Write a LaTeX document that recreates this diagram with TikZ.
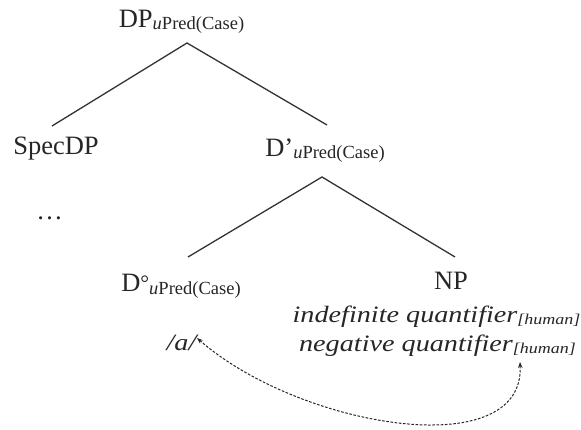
\documentclass[tikz,border=0pt]{standalone}
\usepackage{fontspec}
\setmainfont{Liberation Serif}
\usetikzlibrary{arrows.meta}

% feature subscript attached to a category label
\newcommand\featsub{\raisebox{-2pt}{\fontsize{18.5}{20}\selectfont\textit{u}Pred(Case)}}
\newcommand\humsub{\raisebox{-1.5pt}{\fontsize{15}{16}\selectfont[human]}}
% widened italic used for the lexical items
\newcommand\wideit[1]{\scalebox{1.2}[1]{\itshape\fontsize{23.5}{26}\selectfont #1}}

\tikzset{
  cat/.style={inner sep=0pt, anchor=base, text=black!85,
              font=\fontsize{26.5}{30}\selectfont},
  quant/.style={inner sep=0pt, anchor=base, text=black!85},
  branch/.style={draw=black!80, line width=1.3pt},
  link/.style={draw=black!85, line width=1pt, dash pattern=on 2.6pt off 1.6pt,
               {Stealth[length=6pt,width=4.5pt]}-{Stealth[length=6pt,width=4.5pt]}}
}

\begin{document}
\begin{tikzpicture}[x=1pt, y=-1pt]
  \useasboundingbox (0,0) rectangle (581,430);

  % category labels
  \node[cat] (dp)    at (181.5,28)  {DP\featsub};
  \node[cat] (spec)  at (56,155)    {SpecDP};
  \node[cat] (dbar)  at (325,157)   {D’\featsub};
  \node[cat] (dots)  at (49.5,220)  {…};
  \node[cat] (dzero) at (181,292)   {D\raisebox{1pt}{\fontsize{22}{24}\selectfont°}\featsub};
  \node[cat] (np)    at (451,290)   {NP};

  % lexical material
  \node[quant] (q1) at (436.5,323) {\wideit{indefinite quantifier\humsub}};
  \node[quant] (q2) at (437.5,352) {\wideit{negative quantifier\humsub}};
  \node[quant] (a)  at (181.5,350) {\wideit{/a/}};

  % tree branches
  \draw[branch] ([shift={(-4,-29)}]spec.base) -- ([shift={(5.5,15)}]dp.base)
                -- ([shift={(2,-32)}]dbar.base);
  \draw[branch] ([shift={(7,-35)}]dzero.base) -- ([shift={(-3,20)}]dbar.base)
                -- ([shift={(4,-33)}]np.base);

  % dotted link between /a/ and the quantifiers
  \draw[link] ([shift={(15.5,-12)}]a.base) .. controls (300,428) and (525,465)
              .. ([shift={(82.5,10)}]q2.base);
\end{tikzpicture}
\end{document}
